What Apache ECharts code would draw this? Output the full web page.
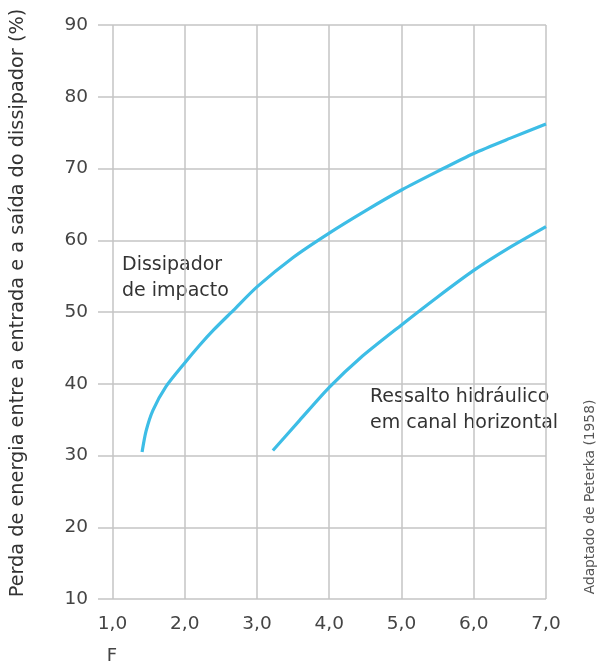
<!DOCTYPE html>
<html>
<head>
<meta charset="utf-8">
<script src="https://cdn.jsdelivr.net/npm/echarts@6/dist/echarts.min.js"></script>
<style>html,body{margin:0;padding:0;background:#fff}#c{width:597px;height:664px}</style>
</head>
<body>
<div id="c"></div>
<script>
const xTicks = [1, 2, 3, 4, 5, 6, 7];
const dissipadorX = [1.41, 1.465, 1.56, 1.74, 2.0, 2.2, 2.4, 2.67, 3.0, 3.5, 4.0, 4.5, 5.0, 5.5, 6.0, 6.5, 7.0];
const dissipadorY = [30.5, 33.4, 36.3, 39.6, 42.9, 45.3, 47.5, 50.2, 53.5, 57.6, 61.0, 64.1, 67.0, 69.6, 72.1, 74.2, 76.2];
const ressaltoX = [3.22, 3.59, 4.0, 4.43, 5.0, 5.5, 6.0, 6.5, 7.0];
const ressaltoY = [30.7, 34.9, 39.5, 43.6, 48.2, 52.1, 55.8, 59.0, 61.9];
const yTitle = 'Perda de energia entre a entrada e a saída do dissipador (%)';
const xTitle = 'F';
const source = 'Adaptado de Peterka (1958)';
const label1 = ['Dissipador', 'de impacto'];
const label2 = ['Ressalto hidráulico', 'em canal horizontal'];

const FONT = 'DejaVu Sans';
const BLUE = '#3dbde6';
const GRIDC = '#c4c4c4';
const TXT = '#333';

const chart = echarts.init(document.getElementById('c'), null, {renderer: 'canvas'});
const zip = (a, b) => a.map((v, i) => [v, b[i]]);
const txt = (s, x, y, size, color) => ({type: 'text', x: x, y: y, silent: true,
  style: {text: s, fontFamily: FONT, fontSize: size || 19, fill: color || TXT, align: 'left', verticalAlign: 'top'}});

chart.setOption({
  animation: false,
  backgroundColor: '#fff',
  grid: {left: 98, right: 51, top: 25, bottom: 65, containLabel: false, outerBoundsMode: 'none'},
  xAxis: {
    type: 'value', min: 0.8, max: 7.0, interval: 0.2,
    axisLine: {show: false}, axisTick: {show: false}, splitLine: {show: false},
    axisLabel: {
      margin: 16, fontFamily: FONT, fontSize: 18.5, color: '#444',
      formatter: v => Math.abs(v - Math.round(v)) < 1e-6 && Math.round(v) >= 1 ? Math.round(v).toFixed(1).replace('.', ',') : ''
    }
  },
  yAxis: {
    type: 'value', min: 10, max: 90, interval: 10,
    axisLine: {show: false}, axisTick: {show: false},
    splitLine: {lineStyle: {color: GRIDC, width: 1.5}},
    axisLabel: {margin: 10, fontFamily: FONT, fontSize: 18.5, color: '#444'}
  },
  series: [
    {
      type: 'line', smooth: 0.25, symbol: 'none', data: zip(dissipadorX, dissipadorY),
      lineStyle: {color: BLUE, width: 3.2}, z: 5,
      markLine: {
        silent: true, symbol: 'none', label: {show: false}, z: 1,
        lineStyle: {color: GRIDC, width: 1.5, type: 'solid'},
        data: xTicks.map(v => ({xAxis: v}))
      }
    },
    {
      type: 'line', smooth: 0.25, symbol: 'none', data: zip(ressaltoX, ressaltoY),
      lineStyle: {color: BLUE, width: 3.2}, z: 5
    }
  ],
  graphic: [
    txt(label1[0], 122, 256),
    txt(label1[1], 122, 281.5),
    txt(label2[0], 370, 387.5),
    txt(label2[1], 370, 414),
    {type: 'text', x: 112, y: 647.5, silent: true,
     style: {text: xTitle, fontFamily: FONT, fontSize: 18, fill: '#444', align: 'center', verticalAlign: 'top'}},
    {type: 'text', x: 18, y: 303, rotation: Math.PI / 2, silent: true,
     style: {text: yTitle, fontFamily: FONT, fontSize: 19.3, fill: TXT, align: 'center', verticalAlign: 'middle'}},
    {type: 'text', x: 590, y: 497, rotation: Math.PI / 2, silent: true,
     style: {text: source, fontFamily: FONT, fontSize: 13.8, fill: '#555', align: 'center', verticalAlign: 'middle'}}
  ]
});
</script>
</body>
</html>
